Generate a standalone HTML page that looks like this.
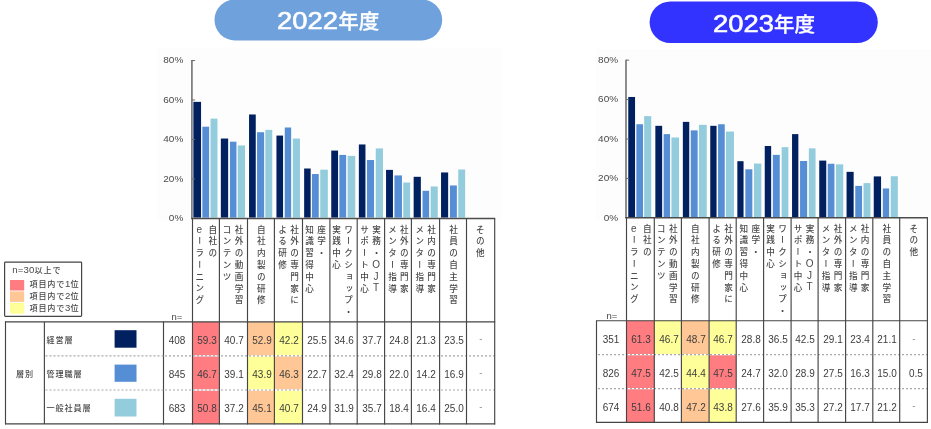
<!DOCTYPE html>
<html lang="ja">
<head>
<meta charset="utf-8">
<title>2022年度 / 2023年度</title>
<style>
html,body{margin:0;padding:0;background:#ffffff;}
body{width:931px;height:429px;position:relative;overflow:hidden;font-family:"Liberation Sans", "Noto Sans CJK JP", sans-serif;}
svg{position:absolute;left:0;top:0;}
#soft{position:absolute;left:0;top:0;width:931px;height:429px;filter:blur(0.45px);}
.t{position:absolute;font-family:"Liberation Sans", "Noto Sans CJK JP", sans-serif;white-space:nowrap;}
.v{position:absolute;font-family:"Liberation Sans", "Noto Sans CJK JP", sans-serif;font-size:8.6px;font-weight:500;color:#4a4a4a;writing-mode:vertical-rl;text-orientation:upright;letter-spacing:3.2px;white-space:nowrap;}
.lat{font-size:10px;letter-spacing:0.65px;position:relative;top:-1.3px;}
.pill{position:absolute;height:40px;line-height:40px;font-family:"Liberation Sans", "Noto Sans CJK JP", sans-serif;color:#ffffff;white-space:nowrap;}
.pd{display:inline-block;font-size:24px;-webkit-text-stroke:0.6px #ffffff;transform:scaleX(1.14);transform-origin:0 50%;}
.pj{display:inline-block;position:relative;top:0px;margin-left:7.75px;font-size:20.5px;font-weight:500;-webkit-text-stroke:0.3px #ffffff;}
</style>
</head>
<body>
<div id="soft">
<svg width="931" height="429" viewBox="0 0 931 429">
<rect x="157.00" y="48.50" width="345.00" height="172.00" fill="#fdfdfd" />
<rect x="596.00" y="49.00" width="335.00" height="171.00" fill="#fdfdfd" />
<rect x="214.5" y="-0.5" width="227.7" height="40.9" rx="20.4" ry="20.4" fill="#6fa1dc"/>
<rect x="649.6" y="1.4" width="228.2" height="41.6" rx="20.8" ry="20.8" fill="#3333ff"/>
<rect x="193.35" y="101.86" width="7.70" height="115.74" fill="#002060" />
<rect x="202.35" y="126.71" width="6.80" height="90.89" fill="#558ed5" />
<rect x="210.55" y="118.62" width="6.90" height="98.98" fill="#93cddd" />
<rect x="220.85" y="138.54" width="7.30" height="79.06" fill="#002060" />
<rect x="229.95" y="141.69" width="6.50" height="75.91" fill="#558ed5" />
<rect x="237.75" y="145.44" width="7.30" height="72.16" fill="#93cddd" />
<rect x="249.05" y="114.48" width="6.70" height="103.12" fill="#002060" />
<rect x="257.05" y="132.23" width="7.10" height="85.37" fill="#558ed5" />
<rect x="265.35" y="129.86" width="6.90" height="87.74" fill="#93cddd" />
<rect x="276.45" y="135.58" width="6.60" height="82.02" fill="#002060" />
<rect x="284.75" y="127.50" width="6.40" height="90.10" fill="#558ed5" />
<rect x="292.85" y="138.54" width="7.10" height="79.06" fill="#93cddd" />
<rect x="304.15" y="168.51" width="6.50" height="49.09" fill="#002060" />
<rect x="311.95" y="174.04" width="6.80" height="43.56" fill="#558ed5" />
<rect x="320.25" y="169.70" width="7.60" height="47.90" fill="#93cddd" />
<rect x="331.25" y="150.57" width="6.80" height="67.03" fill="#002060" />
<rect x="339.35" y="154.91" width="6.80" height="62.69" fill="#558ed5" />
<rect x="347.65" y="155.89" width="7.60" height="61.71" fill="#93cddd" />
<rect x="358.85" y="144.46" width="6.60" height="73.14" fill="#002060" />
<rect x="366.95" y="160.03" width="7.10" height="57.57" fill="#558ed5" />
<rect x="375.75" y="148.40" width="7.20" height="69.20" fill="#93cddd" />
<rect x="386.05" y="169.89" width="6.90" height="47.71" fill="#002060" />
<rect x="394.45" y="175.42" width="7.50" height="42.18" fill="#558ed5" />
<rect x="403.25" y="182.52" width="6.90" height="35.08" fill="#93cddd" />
<rect x="413.65" y="176.80" width="7.20" height="40.80" fill="#002060" />
<rect x="422.55" y="190.80" width="6.60" height="26.80" fill="#558ed5" />
<rect x="430.65" y="186.46" width="7.10" height="31.14" fill="#93cddd" />
<rect x="441.05" y="172.46" width="7.10" height="45.14" fill="#002060" />
<rect x="449.95" y="185.47" width="6.90" height="32.13" fill="#558ed5" />
<rect x="458.25" y="169.50" width="6.90" height="48.10" fill="#93cddd" />
<rect x="192.50" y="321.90" width="26.90" height="34.00" fill="#ff7c80" />
<rect x="247.50" y="321.90" width="26.90" height="34.00" fill="#fec795" />
<rect x="274.40" y="321.90" width="28.10" height="34.00" fill="#ffff99" />
<rect x="192.50" y="355.90" width="26.90" height="34.10" fill="#ff7c80" />
<rect x="247.50" y="355.90" width="26.90" height="34.10" fill="#ffff99" />
<rect x="274.40" y="355.90" width="28.10" height="34.10" fill="#fec795" />
<rect x="192.50" y="390.00" width="26.90" height="33.90" fill="#ff7c80" />
<rect x="247.50" y="390.00" width="26.90" height="33.90" fill="#fec795" />
<rect x="274.40" y="390.00" width="28.10" height="33.90" fill="#ffff99" />
<line x1="163.50" y1="355.90" x2="494.70" y2="355.90" stroke="#ffffff" stroke-width="1.3" />
<line x1="165.00" y1="355.90" x2="494.70" y2="355.90" stroke="#a8a8a8" stroke-width="1.2" stroke-dasharray="2 2"/>
<line x1="163.50" y1="390.00" x2="494.70" y2="390.00" stroke="#ffffff" stroke-width="1.3" />
<line x1="165.00" y1="390.00" x2="494.70" y2="390.00" stroke="#a8a8a8" stroke-width="1.2" stroke-dasharray="2 2"/>
<line x1="191.90" y1="60.04" x2="191.90" y2="218.60" stroke="#7a7a7a" stroke-width="1.7" />
<line x1="191.90" y1="178.86" x2="195.10" y2="178.86" stroke="#6a6a6a" stroke-width="1.0" />
<line x1="191.90" y1="139.42" x2="195.10" y2="139.42" stroke="#6a6a6a" stroke-width="1.0" />
<line x1="191.90" y1="99.98" x2="195.10" y2="99.98" stroke="#6a6a6a" stroke-width="1.0" />
<line x1="191.90" y1="60.54" x2="195.10" y2="60.54" stroke="#6a6a6a" stroke-width="1.0" />
<line x1="191.10" y1="218.60" x2="495.20" y2="218.60" stroke="#4c4c4c" stroke-width="1.5" />
<line x1="192.50" y1="218.60" x2="192.50" y2="424.40" stroke="#454545" stroke-width="1.15" />
<line x1="219.40" y1="218.60" x2="219.40" y2="424.40" stroke="#454545" stroke-width="1.15" />
<line x1="247.50" y1="218.60" x2="247.50" y2="424.40" stroke="#454545" stroke-width="1.15" />
<line x1="274.40" y1="218.60" x2="274.40" y2="424.40" stroke="#454545" stroke-width="1.15" />
<line x1="302.50" y1="218.60" x2="302.50" y2="424.40" stroke="#454545" stroke-width="1.15" />
<line x1="329.90" y1="218.60" x2="329.90" y2="424.40" stroke="#454545" stroke-width="1.15" />
<line x1="357.20" y1="218.60" x2="357.20" y2="424.40" stroke="#454545" stroke-width="1.15" />
<line x1="384.60" y1="218.60" x2="384.60" y2="424.40" stroke="#454545" stroke-width="1.15" />
<line x1="411.40" y1="218.60" x2="411.40" y2="424.40" stroke="#454545" stroke-width="1.15" />
<line x1="439.60" y1="218.60" x2="439.60" y2="424.40" stroke="#454545" stroke-width="1.15" />
<line x1="466.50" y1="218.60" x2="466.50" y2="424.40" stroke="#454545" stroke-width="1.15" />
<line x1="494.70" y1="218.60" x2="494.70" y2="424.40" stroke="#454545" stroke-width="1.15" />
<line x1="163.50" y1="321.90" x2="163.50" y2="424.40" stroke="#454545" stroke-width="1.15" />
<line x1="163.00" y1="321.90" x2="495.20" y2="321.90" stroke="#454545" stroke-width="1.15" />
<line x1="163.00" y1="423.90" x2="495.20" y2="423.90" stroke="#454545" stroke-width="1.15" />
<rect x="628.25" y="96.97" width="6.80" height="120.03" fill="#002060" />
<rect x="636.35" y="124.24" width="6.70" height="92.76" fill="#558ed5" />
<rect x="644.15" y="116.14" width="7.10" height="100.86" fill="#93cddd" />
<rect x="655.35" y="125.82" width="6.80" height="91.18" fill="#002060" />
<rect x="663.65" y="134.12" width="6.40" height="82.88" fill="#558ed5" />
<rect x="671.45" y="137.48" width="7.60" height="79.52" fill="#93cddd" />
<rect x="682.85" y="121.87" width="6.40" height="95.13" fill="#002060" />
<rect x="690.75" y="130.37" width="6.90" height="86.63" fill="#558ed5" />
<rect x="698.95" y="124.83" width="7.80" height="92.17" fill="#93cddd" />
<rect x="710.25" y="125.82" width="6.30" height="91.18" fill="#002060" />
<rect x="718.05" y="124.24" width="6.70" height="92.76" fill="#558ed5" />
<rect x="725.95" y="131.55" width="8.00" height="85.45" fill="#93cddd" />
<rect x="737.35" y="161.19" width="6.20" height="55.81" fill="#002060" />
<rect x="745.35" y="169.29" width="7.00" height="47.71" fill="#558ed5" />
<rect x="753.95" y="163.56" width="7.40" height="53.44" fill="#93cddd" />
<rect x="764.75" y="145.98" width="6.40" height="71.02" fill="#002060" />
<rect x="772.85" y="154.87" width="6.90" height="62.13" fill="#558ed5" />
<rect x="781.65" y="147.16" width="6.70" height="69.84" fill="#93cddd" />
<rect x="792.05" y="134.12" width="6.30" height="82.88" fill="#002060" />
<rect x="800.05" y="160.99" width="7.10" height="56.01" fill="#558ed5" />
<rect x="808.85" y="148.35" width="6.70" height="68.65" fill="#93cddd" />
<rect x="819.25" y="160.60" width="7.00" height="56.40" fill="#002060" />
<rect x="827.75" y="163.76" width="6.70" height="53.24" fill="#558ed5" />
<rect x="835.95" y="164.35" width="7.30" height="52.65" fill="#93cddd" />
<rect x="846.55" y="171.86" width="7.10" height="45.14" fill="#002060" />
<rect x="855.25" y="185.89" width="6.80" height="31.11" fill="#558ed5" />
<rect x="863.55" y="183.12" width="6.90" height="33.88" fill="#93cddd" />
<rect x="873.75" y="176.41" width="7.30" height="40.59" fill="#002060" />
<rect x="882.85" y="188.46" width="6.30" height="28.54" fill="#558ed5" />
<rect x="890.75" y="176.21" width="7.10" height="40.79" fill="#93cddd" />
<rect x="626.50" y="320.70" width="27.80" height="34.00" fill="#ff7c80" />
<rect x="654.30" y="320.70" width="27.10" height="34.00" fill="#ffff99" />
<rect x="681.40" y="320.70" width="27.70" height="34.00" fill="#fec795" />
<rect x="709.10" y="320.70" width="27.10" height="34.00" fill="#ffff99" />
<rect x="626.50" y="354.70" width="27.80" height="34.00" fill="#ff7c80" />
<rect x="681.40" y="354.70" width="27.70" height="34.00" fill="#ffff99" />
<rect x="709.10" y="354.70" width="27.10" height="34.00" fill="#ff7c80" />
<rect x="626.50" y="388.70" width="27.80" height="33.70" fill="#ff7c80" />
<rect x="681.40" y="388.70" width="27.70" height="33.70" fill="#fec795" />
<rect x="709.10" y="388.70" width="27.10" height="33.70" fill="#ffff99" />
<line x1="596.50" y1="354.70" x2="927.40" y2="354.70" stroke="#ffffff" stroke-width="1.3" />
<line x1="598.00" y1="354.70" x2="927.40" y2="354.70" stroke="#a8a8a8" stroke-width="1.2" stroke-dasharray="2 2"/>
<line x1="596.50" y1="388.70" x2="927.40" y2="388.70" stroke="#ffffff" stroke-width="1.3" />
<line x1="598.00" y1="388.70" x2="927.40" y2="388.70" stroke="#a8a8a8" stroke-width="1.2" stroke-dasharray="2 2"/>
<line x1="626.00" y1="59.64" x2="626.00" y2="217.80" stroke="#7a7a7a" stroke-width="1.7" />
<line x1="626.00" y1="178.46" x2="629.20" y2="178.46" stroke="#6a6a6a" stroke-width="1.0" />
<line x1="626.00" y1="139.02" x2="629.20" y2="139.02" stroke="#6a6a6a" stroke-width="1.0" />
<line x1="626.00" y1="99.58" x2="629.20" y2="99.58" stroke="#6a6a6a" stroke-width="1.0" />
<line x1="626.00" y1="60.14" x2="629.20" y2="60.14" stroke="#6a6a6a" stroke-width="1.0" />
<line x1="625.20" y1="217.80" x2="927.90" y2="217.80" stroke="#4c4c4c" stroke-width="1.5" />
<line x1="626.50" y1="217.80" x2="626.50" y2="422.90" stroke="#454545" stroke-width="1.15" />
<line x1="654.30" y1="217.80" x2="654.30" y2="422.90" stroke="#454545" stroke-width="1.15" />
<line x1="681.40" y1="217.80" x2="681.40" y2="422.90" stroke="#454545" stroke-width="1.15" />
<line x1="709.10" y1="217.80" x2="709.10" y2="422.90" stroke="#454545" stroke-width="1.15" />
<line x1="736.20" y1="217.80" x2="736.20" y2="422.90" stroke="#454545" stroke-width="1.15" />
<line x1="763.60" y1="217.80" x2="763.60" y2="422.90" stroke="#454545" stroke-width="1.15" />
<line x1="791.10" y1="217.80" x2="791.10" y2="422.90" stroke="#454545" stroke-width="1.15" />
<line x1="818.10" y1="217.80" x2="818.10" y2="422.90" stroke="#454545" stroke-width="1.15" />
<line x1="845.60" y1="217.80" x2="845.60" y2="422.90" stroke="#454545" stroke-width="1.15" />
<line x1="872.80" y1="217.80" x2="872.80" y2="422.90" stroke="#454545" stroke-width="1.15" />
<line x1="899.70" y1="217.80" x2="899.70" y2="422.90" stroke="#454545" stroke-width="1.15" />
<line x1="927.40" y1="217.80" x2="927.40" y2="422.90" stroke="#454545" stroke-width="1.15" />
<line x1="596.50" y1="320.70" x2="596.50" y2="422.90" stroke="#454545" stroke-width="1.15" />
<line x1="596.00" y1="320.70" x2="927.90" y2="320.70" stroke="#454545" stroke-width="1.15" />
<line x1="596.00" y1="422.40" x2="927.90" y2="422.40" stroke="#454545" stroke-width="1.15" />
<line x1="5.50" y1="321.40" x2="5.50" y2="424.40" stroke="#454545" stroke-width="1.15" />
<line x1="44.40" y1="321.90" x2="44.40" y2="423.90" stroke="#454545" stroke-width="1.15" />
<line x1="5.00" y1="321.90" x2="163.50" y2="321.90" stroke="#454545" stroke-width="1.15" />
<line x1="5.00" y1="423.90" x2="163.50" y2="423.90" stroke="#454545" stroke-width="1.15" />
<line x1="45.50" y1="355.90" x2="163.50" y2="355.90" stroke="#a8a8a8" stroke-width="1.2" stroke-dasharray="2 2"/>
<line x1="45.50" y1="390.00" x2="163.50" y2="390.00" stroke="#a8a8a8" stroke-width="1.2" stroke-dasharray="2 2"/>
<rect x="114.60" y="330.20" width="21.90" height="17.50" fill="#002060" />
<rect x="114.60" y="364.60" width="21.90" height="17.20" fill="#558ed5" />
<rect x="114.60" y="398.80" width="21.90" height="17.70" fill="#93cddd" />
<rect x="4.6" y="262.2" width="77" height="54.2" fill="#ffffff" stroke="#454545" stroke-width="1.2" rx="0.8"/>
<rect x="10.00" y="280.00" width="14.20" height="10.50" fill="#ff7c80" />
<rect x="10.00" y="291.40" width="14.20" height="10.50" fill="#fec795" />
<rect x="10.00" y="302.80" width="14.20" height="10.90" fill="#ffff99" />
</svg>
<div class="pill" style="left:277.15px;top:1.40px;"><span class="pd">2022</span><span class="pj">年度</span></div>
<div class="pill" style="left:712.85px;top:3.60px;"><span class="pd">2023</span><span class="pj">年度</span></div>
<div class="t" style="left:103.30px;top:208.20px;width:80px;height:20px;line-height:20px;font-size:10px;color:#4a4a4a;text-align:right;white-space:nowrap;transform:scaleY(0.9);">0%</div>
<div class="t" style="left:103.30px;top:168.76px;width:80px;height:20px;line-height:20px;font-size:10px;color:#4a4a4a;text-align:right;white-space:nowrap;transform:scaleY(0.9);">20%</div>
<div class="t" style="left:103.30px;top:129.32px;width:80px;height:20px;line-height:20px;font-size:10px;color:#4a4a4a;text-align:right;white-space:nowrap;transform:scaleY(0.9);">40%</div>
<div class="t" style="left:103.30px;top:89.88px;width:80px;height:20px;line-height:20px;font-size:10px;color:#4a4a4a;text-align:right;white-space:nowrap;transform:scaleY(0.9);">60%</div>
<div class="t" style="left:103.30px;top:50.44px;width:80px;height:20px;line-height:20px;font-size:10px;color:#4a4a4a;text-align:right;white-space:nowrap;transform:scaleY(0.9);">80%</div>
<div class="v" style="left:193.01px;top:225.00px;width:23.80px;line-height:11.9px;">自社の<br><span class="lat">e</span>ーラーニング</div>
<div class="v" style="left:219.16px;top:225.00px;width:23.80px;line-height:11.9px;">社外の動画学習<br>コンテンツ</div>
<div class="v" style="left:253.39px;top:225.00px;width:11.90px;line-height:11.9px;">自社内製の研修</div>
<div class="v" style="left:274.79px;top:225.00px;width:23.80px;line-height:11.9px;">社外の専門家に<br>よる研修</div>
<div class="v" style="left:301.76px;top:225.00px;width:23.80px;line-height:11.9px;">座学・<br>知識習得中心</div>
<div class="v" style="left:328.70px;top:225.00px;width:23.80px;line-height:11.9px;">ワークショップ・<br>実践中心</div>
<div class="v" style="left:357.72px;top:225.00px;width:23.80px;line-height:11.9px;">実務・<span class="lat">OJT</span><br>サポート中心</div>
<div class="v" style="left:384.64px;top:225.00px;width:23.80px;line-height:11.9px;">社外の専門家<br>メンター指導</div>
<div class="v" style="left:411.88px;top:225.00px;width:23.80px;line-height:11.9px;">社内の専門家<br>メンター指導</div>
<div class="v" style="left:445.71px;top:225.00px;width:11.90px;line-height:11.9px;">社員の自主学習</div>
<div class="v" style="left:472.45px;top:225.00px;width:11.90px;line-height:11.9px;">その他</div>
<div class="t" style="left:136.80px;top:306.60px;width:80px;height:20px;line-height:20px;font-size:9.5px;color:#444;text-align:center;transform:scaleX(1.0);">n=</div>
<div class="t" style="left:137.00px;top:330.70px;width:80px;height:20px;line-height:20px;font-size:10.3px;color:#3c3c3c;text-align:center;transform:scaleX(0.97);">408</div>
<div class="t" style="left:166.75px;top:330.70px;width:80px;height:20px;line-height:20px;font-size:10.3px;color:#3c3c3c;text-align:center;transform:scaleX(0.97);">59.3</div>
<div class="t" style="left:194.25px;top:330.70px;width:80px;height:20px;line-height:20px;font-size:10.3px;color:#3c3c3c;text-align:center;transform:scaleX(0.97);">40.7</div>
<div class="t" style="left:221.75px;top:330.70px;width:80px;height:20px;line-height:20px;font-size:10.3px;color:#3c3c3c;text-align:center;transform:scaleX(0.97);">52.9</div>
<div class="t" style="left:249.25px;top:330.70px;width:80px;height:20px;line-height:20px;font-size:10.3px;color:#3c3c3c;text-align:center;transform:scaleX(0.97);">42.2</div>
<div class="t" style="left:277.00px;top:330.70px;width:80px;height:20px;line-height:20px;font-size:10.3px;color:#3c3c3c;text-align:center;transform:scaleX(0.97);">25.5</div>
<div class="t" style="left:304.35px;top:330.70px;width:80px;height:20px;line-height:20px;font-size:10.3px;color:#3c3c3c;text-align:center;transform:scaleX(0.97);">34.6</div>
<div class="t" style="left:331.70px;top:330.70px;width:80px;height:20px;line-height:20px;font-size:10.3px;color:#3c3c3c;text-align:center;transform:scaleX(0.97);">37.7</div>
<div class="t" style="left:358.80px;top:330.70px;width:80px;height:20px;line-height:20px;font-size:10.3px;color:#3c3c3c;text-align:center;transform:scaleX(0.97);">24.8</div>
<div class="t" style="left:386.30px;top:330.70px;width:80px;height:20px;line-height:20px;font-size:10.3px;color:#3c3c3c;text-align:center;transform:scaleX(0.97);">21.3</div>
<div class="t" style="left:413.85px;top:330.70px;width:80px;height:20px;line-height:20px;font-size:10.3px;color:#3c3c3c;text-align:center;transform:scaleX(0.97);">23.5</div>
<div class="t" style="left:440.90px;top:329.10px;width:80px;height:20px;line-height:20px;font-size:9.5px;color:#808080;text-align:center;transform:scaleX(1.0);">-</div>
<div class="t" style="left:137.00px;top:364.75px;width:80px;height:20px;line-height:20px;font-size:10.3px;color:#3c3c3c;text-align:center;transform:scaleX(0.97);">845</div>
<div class="t" style="left:166.75px;top:364.75px;width:80px;height:20px;line-height:20px;font-size:10.3px;color:#3c3c3c;text-align:center;transform:scaleX(0.97);">46.7</div>
<div class="t" style="left:194.25px;top:364.75px;width:80px;height:20px;line-height:20px;font-size:10.3px;color:#3c3c3c;text-align:center;transform:scaleX(0.97);">39.1</div>
<div class="t" style="left:221.75px;top:364.75px;width:80px;height:20px;line-height:20px;font-size:10.3px;color:#3c3c3c;text-align:center;transform:scaleX(0.97);">43.9</div>
<div class="t" style="left:249.25px;top:364.75px;width:80px;height:20px;line-height:20px;font-size:10.3px;color:#3c3c3c;text-align:center;transform:scaleX(0.97);">46.3</div>
<div class="t" style="left:277.00px;top:364.75px;width:80px;height:20px;line-height:20px;font-size:10.3px;color:#3c3c3c;text-align:center;transform:scaleX(0.97);">22.7</div>
<div class="t" style="left:304.35px;top:364.75px;width:80px;height:20px;line-height:20px;font-size:10.3px;color:#3c3c3c;text-align:center;transform:scaleX(0.97);">32.4</div>
<div class="t" style="left:331.70px;top:364.75px;width:80px;height:20px;line-height:20px;font-size:10.3px;color:#3c3c3c;text-align:center;transform:scaleX(0.97);">29.8</div>
<div class="t" style="left:358.80px;top:364.75px;width:80px;height:20px;line-height:20px;font-size:10.3px;color:#3c3c3c;text-align:center;transform:scaleX(0.97);">22.0</div>
<div class="t" style="left:386.30px;top:364.75px;width:80px;height:20px;line-height:20px;font-size:10.3px;color:#3c3c3c;text-align:center;transform:scaleX(0.97);">14.2</div>
<div class="t" style="left:413.85px;top:364.75px;width:80px;height:20px;line-height:20px;font-size:10.3px;color:#3c3c3c;text-align:center;transform:scaleX(0.97);">16.9</div>
<div class="t" style="left:440.90px;top:363.15px;width:80px;height:20px;line-height:20px;font-size:9.5px;color:#808080;text-align:center;transform:scaleX(1.0);">-</div>
<div class="t" style="left:137.00px;top:398.75px;width:80px;height:20px;line-height:20px;font-size:10.3px;color:#3c3c3c;text-align:center;transform:scaleX(0.97);">683</div>
<div class="t" style="left:166.75px;top:398.75px;width:80px;height:20px;line-height:20px;font-size:10.3px;color:#3c3c3c;text-align:center;transform:scaleX(0.97);">50.8</div>
<div class="t" style="left:194.25px;top:398.75px;width:80px;height:20px;line-height:20px;font-size:10.3px;color:#3c3c3c;text-align:center;transform:scaleX(0.97);">37.2</div>
<div class="t" style="left:221.75px;top:398.75px;width:80px;height:20px;line-height:20px;font-size:10.3px;color:#3c3c3c;text-align:center;transform:scaleX(0.97);">45.1</div>
<div class="t" style="left:249.25px;top:398.75px;width:80px;height:20px;line-height:20px;font-size:10.3px;color:#3c3c3c;text-align:center;transform:scaleX(0.97);">40.7</div>
<div class="t" style="left:277.00px;top:398.75px;width:80px;height:20px;line-height:20px;font-size:10.3px;color:#3c3c3c;text-align:center;transform:scaleX(0.97);">24.9</div>
<div class="t" style="left:304.35px;top:398.75px;width:80px;height:20px;line-height:20px;font-size:10.3px;color:#3c3c3c;text-align:center;transform:scaleX(0.97);">31.9</div>
<div class="t" style="left:331.70px;top:398.75px;width:80px;height:20px;line-height:20px;font-size:10.3px;color:#3c3c3c;text-align:center;transform:scaleX(0.97);">35.7</div>
<div class="t" style="left:358.80px;top:398.75px;width:80px;height:20px;line-height:20px;font-size:10.3px;color:#3c3c3c;text-align:center;transform:scaleX(0.97);">18.4</div>
<div class="t" style="left:386.30px;top:398.75px;width:80px;height:20px;line-height:20px;font-size:10.3px;color:#3c3c3c;text-align:center;transform:scaleX(0.97);">16.4</div>
<div class="t" style="left:413.85px;top:398.75px;width:80px;height:20px;line-height:20px;font-size:10.3px;color:#3c3c3c;text-align:center;transform:scaleX(0.97);">25.0</div>
<div class="t" style="left:440.90px;top:397.15px;width:80px;height:20px;line-height:20px;font-size:9.5px;color:#808080;text-align:center;transform:scaleX(1.0);">-</div>
<div class="t" style="left:538.10px;top:207.80px;width:80px;height:20px;line-height:20px;font-size:10px;color:#4a4a4a;text-align:right;white-space:nowrap;transform:scaleY(0.9);">0%</div>
<div class="t" style="left:538.10px;top:168.36px;width:80px;height:20px;line-height:20px;font-size:10px;color:#4a4a4a;text-align:right;white-space:nowrap;transform:scaleY(0.9);">20%</div>
<div class="t" style="left:538.10px;top:128.92px;width:80px;height:20px;line-height:20px;font-size:10px;color:#4a4a4a;text-align:right;white-space:nowrap;transform:scaleY(0.9);">40%</div>
<div class="t" style="left:538.10px;top:89.48px;width:80px;height:20px;line-height:20px;font-size:10px;color:#4a4a4a;text-align:right;white-space:nowrap;transform:scaleY(0.9);">60%</div>
<div class="t" style="left:538.10px;top:50.04px;width:80px;height:20px;line-height:20px;font-size:10px;color:#4a4a4a;text-align:right;white-space:nowrap;transform:scaleY(0.9);">80%</div>
<div class="v" style="left:627.46px;top:224.00px;width:23.80px;line-height:11.9px;">自社の<br><span class="lat">e</span>ーラーニング</div>
<div class="v" style="left:653.46px;top:224.00px;width:23.80px;line-height:11.9px;">社外の動画学習<br>コンテンツ</div>
<div class="v" style="left:687.46px;top:224.00px;width:11.90px;line-height:11.9px;">自社内製の研修</div>
<div class="v" style="left:708.69px;top:224.00px;width:23.80px;line-height:11.9px;">社外の専門家に<br>よる研修</div>
<div class="v" style="left:735.99px;top:224.00px;width:23.80px;line-height:11.9px;">座学・<br>知識習得中心</div>
<div class="v" style="left:762.65px;top:224.00px;width:23.80px;line-height:11.9px;">ワークショップ・<br>実践中心</div>
<div class="v" style="left:791.26px;top:224.00px;width:23.80px;line-height:11.9px;">実務・<span class="lat">OJT</span><br>サポート中心</div>
<div class="v" style="left:818.26px;top:224.00px;width:23.80px;line-height:11.9px;">社外の専門家<br>メンター指導</div>
<div class="v" style="left:845.37px;top:224.00px;width:23.80px;line-height:11.9px;">社内の専門家<br>メンター指導</div>
<div class="v" style="left:878.99px;top:224.00px;width:11.90px;line-height:11.9px;">社員の自主学習</div>
<div class="v" style="left:905.86px;top:224.00px;width:11.90px;line-height:11.9px;">その他</div>
<div class="t" style="left:571.80px;top:305.60px;width:80px;height:20px;line-height:20px;font-size:9.5px;color:#444;text-align:center;transform:scaleX(1.0);">n=</div>
<div class="t" style="left:571.10px;top:330.20px;width:80px;height:20px;line-height:20px;font-size:10.3px;color:#3c3c3c;text-align:center;transform:scaleX(0.97);">351</div>
<div class="t" style="left:601.20px;top:330.20px;width:80px;height:20px;line-height:20px;font-size:10.3px;color:#3c3c3c;text-align:center;transform:scaleX(0.97);">61.3</div>
<div class="t" style="left:628.65px;top:330.20px;width:80px;height:20px;line-height:20px;font-size:10.3px;color:#3c3c3c;text-align:center;transform:scaleX(0.97);">46.7</div>
<div class="t" style="left:656.05px;top:330.20px;width:80px;height:20px;line-height:20px;font-size:10.3px;color:#3c3c3c;text-align:center;transform:scaleX(0.97);">48.7</div>
<div class="t" style="left:683.45px;top:330.20px;width:80px;height:20px;line-height:20px;font-size:10.3px;color:#3c3c3c;text-align:center;transform:scaleX(0.97);">46.7</div>
<div class="t" style="left:710.70px;top:330.20px;width:80px;height:20px;line-height:20px;font-size:10.3px;color:#3c3c3c;text-align:center;transform:scaleX(0.97);">28.8</div>
<div class="t" style="left:738.15px;top:330.20px;width:80px;height:20px;line-height:20px;font-size:10.3px;color:#3c3c3c;text-align:center;transform:scaleX(0.97);">36.5</div>
<div class="t" style="left:765.40px;top:330.20px;width:80px;height:20px;line-height:20px;font-size:10.3px;color:#3c3c3c;text-align:center;transform:scaleX(0.97);">42.5</div>
<div class="t" style="left:792.65px;top:330.20px;width:80px;height:20px;line-height:20px;font-size:10.3px;color:#3c3c3c;text-align:center;transform:scaleX(0.97);">29.1</div>
<div class="t" style="left:820.00px;top:330.20px;width:80px;height:20px;line-height:20px;font-size:10.3px;color:#3c3c3c;text-align:center;transform:scaleX(0.97);">23.4</div>
<div class="t" style="left:847.05px;top:330.20px;width:80px;height:20px;line-height:20px;font-size:10.3px;color:#3c3c3c;text-align:center;transform:scaleX(0.97);">21.1</div>
<div class="t" style="left:873.85px;top:328.60px;width:80px;height:20px;line-height:20px;font-size:9.5px;color:#808080;text-align:center;transform:scaleX(1.0);">-</div>
<div class="t" style="left:571.10px;top:364.20px;width:80px;height:20px;line-height:20px;font-size:10.3px;color:#3c3c3c;text-align:center;transform:scaleX(0.97);">826</div>
<div class="t" style="left:601.20px;top:364.20px;width:80px;height:20px;line-height:20px;font-size:10.3px;color:#3c3c3c;text-align:center;transform:scaleX(0.97);">47.5</div>
<div class="t" style="left:628.65px;top:364.20px;width:80px;height:20px;line-height:20px;font-size:10.3px;color:#3c3c3c;text-align:center;transform:scaleX(0.97);">42.5</div>
<div class="t" style="left:656.05px;top:364.20px;width:80px;height:20px;line-height:20px;font-size:10.3px;color:#3c3c3c;text-align:center;transform:scaleX(0.97);">44.4</div>
<div class="t" style="left:683.45px;top:364.20px;width:80px;height:20px;line-height:20px;font-size:10.3px;color:#3c3c3c;text-align:center;transform:scaleX(0.97);">47.5</div>
<div class="t" style="left:710.70px;top:364.20px;width:80px;height:20px;line-height:20px;font-size:10.3px;color:#3c3c3c;text-align:center;transform:scaleX(0.97);">24.7</div>
<div class="t" style="left:738.15px;top:364.20px;width:80px;height:20px;line-height:20px;font-size:10.3px;color:#3c3c3c;text-align:center;transform:scaleX(0.97);">32.0</div>
<div class="t" style="left:765.40px;top:364.20px;width:80px;height:20px;line-height:20px;font-size:10.3px;color:#3c3c3c;text-align:center;transform:scaleX(0.97);">28.9</div>
<div class="t" style="left:792.65px;top:364.20px;width:80px;height:20px;line-height:20px;font-size:10.3px;color:#3c3c3c;text-align:center;transform:scaleX(0.97);">27.5</div>
<div class="t" style="left:820.00px;top:364.20px;width:80px;height:20px;line-height:20px;font-size:10.3px;color:#3c3c3c;text-align:center;transform:scaleX(0.97);">16.3</div>
<div class="t" style="left:847.05px;top:364.20px;width:80px;height:20px;line-height:20px;font-size:10.3px;color:#3c3c3c;text-align:center;transform:scaleX(0.97);">15.0</div>
<div class="t" style="left:876.15px;top:364.20px;width:80px;height:20px;line-height:20px;font-size:10.3px;color:#3c3c3c;text-align:center;transform:scaleX(0.97);">0.5</div>
<div class="t" style="left:571.10px;top:398.05px;width:80px;height:20px;line-height:20px;font-size:10.3px;color:#3c3c3c;text-align:center;transform:scaleX(0.97);">674</div>
<div class="t" style="left:601.20px;top:398.05px;width:80px;height:20px;line-height:20px;font-size:10.3px;color:#3c3c3c;text-align:center;transform:scaleX(0.97);">51.6</div>
<div class="t" style="left:628.65px;top:398.05px;width:80px;height:20px;line-height:20px;font-size:10.3px;color:#3c3c3c;text-align:center;transform:scaleX(0.97);">40.8</div>
<div class="t" style="left:656.05px;top:398.05px;width:80px;height:20px;line-height:20px;font-size:10.3px;color:#3c3c3c;text-align:center;transform:scaleX(0.97);">47.2</div>
<div class="t" style="left:683.45px;top:398.05px;width:80px;height:20px;line-height:20px;font-size:10.3px;color:#3c3c3c;text-align:center;transform:scaleX(0.97);">43.8</div>
<div class="t" style="left:710.70px;top:398.05px;width:80px;height:20px;line-height:20px;font-size:10.3px;color:#3c3c3c;text-align:center;transform:scaleX(0.97);">27.6</div>
<div class="t" style="left:738.15px;top:398.05px;width:80px;height:20px;line-height:20px;font-size:10.3px;color:#3c3c3c;text-align:center;transform:scaleX(0.97);">35.9</div>
<div class="t" style="left:765.40px;top:398.05px;width:80px;height:20px;line-height:20px;font-size:10.3px;color:#3c3c3c;text-align:center;transform:scaleX(0.97);">35.3</div>
<div class="t" style="left:792.65px;top:398.05px;width:80px;height:20px;line-height:20px;font-size:10.3px;color:#3c3c3c;text-align:center;transform:scaleX(0.97);">27.2</div>
<div class="t" style="left:820.00px;top:398.05px;width:80px;height:20px;line-height:20px;font-size:10.3px;color:#3c3c3c;text-align:center;transform:scaleX(0.97);">17.7</div>
<div class="t" style="left:847.05px;top:398.05px;width:80px;height:20px;line-height:20px;font-size:10.3px;color:#3c3c3c;text-align:center;transform:scaleX(0.97);">21.2</div>
<div class="t" style="left:873.85px;top:396.45px;width:80px;height:20px;line-height:20px;font-size:9.5px;color:#808080;text-align:center;transform:scaleX(1.0);">-</div>
<div class="t" style="left:46.40px;top:331.20px;height:20px;line-height:20px;font-size:8.1px;color:#484848;white-space:nowrap;letter-spacing:0.95px;font-weight:500;">経営層</div>
<div class="t" style="left:46.40px;top:365.25px;height:20px;line-height:20px;font-size:8.1px;color:#484848;white-space:nowrap;letter-spacing:0.95px;font-weight:500;">管理職層</div>
<div class="t" style="left:46.40px;top:399.25px;height:20px;line-height:20px;font-size:8.1px;color:#484848;white-space:nowrap;letter-spacing:0.95px;font-weight:500;">一般社員層</div>
<div class="t" style="left:-15.10px;top:364.70px;width:80px;height:20px;line-height:20px;font-size:8.1px;color:#484848;text-align:center;transform:scaleX(1.0);letter-spacing:0.75px;font-weight:500;">層別</div>
<div class="t" style="left:12.20px;top:259.70px;height:20px;line-height:20px;font-size:8.1px;color:#484848;white-space:nowrap;letter-spacing:0.75px;font-weight:500;letter-spacing:0.9px;"><span style="font-size:9.6px;letter-spacing:0.2px;">n=30</span>以上で</div>
<div class="t" style="left:29.60px;top:274.30px;height:20px;line-height:20px;font-size:8.1px;color:#484848;white-space:nowrap;letter-spacing:0.75px;font-weight:500;">項目内で<span style="font-size:9.6px;letter-spacing:0.2px;">1</span>位</div>
<div class="t" style="left:29.60px;top:285.90px;height:20px;line-height:20px;font-size:8.1px;color:#484848;white-space:nowrap;letter-spacing:0.75px;font-weight:500;">項目内で<span style="font-size:9.6px;letter-spacing:0.2px;">2</span>位</div>
<div class="t" style="left:29.60px;top:298.20px;height:20px;line-height:20px;font-size:8.1px;color:#484848;white-space:nowrap;letter-spacing:0.75px;font-weight:500;">項目内で<span style="font-size:9.6px;letter-spacing:0.2px;">3</span>位</div>
</div>
</body>
</html>
